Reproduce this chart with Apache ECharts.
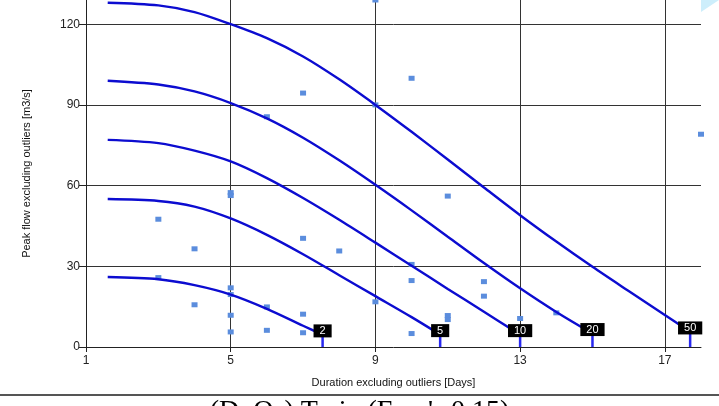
<!DOCTYPE html>
<html>
<head>
<meta charset="utf-8">
<script src="https://cdn.jsdelivr.net/npm/echarts@6/dist/echarts.min.js"></script>
<style>
  html, body { margin: 0; padding: 0; background: #fff; }
  #main { width: 719px; height: 406px; }
</style>
</head>
<body>
<div id="main"></div>
<script>
// frequency curves (return period): [duration, peak flow]
var periods = ['2', '5', '10', '20', '50'];
var curve2 = [[1.6, 26], [3, 25.2], [4, 23], [5, 19.5], [6, 14.2], [7, 7.9], [7.54, 4.5]];
var curve5 = [[1.6, 55], [3, 54.3], [4, 52.2], [5, 47.8], [6, 41.7], [7, 34.5], [8, 26.7], [9, 18.9], [10, 11.1], [10.79, 4.6]];
var curve10 = [[1.6, 77], [3, 75.8], [4, 73], [5, 69], [6, 62.8], [7, 55.4], [8, 47.3], [9, 38.8], [10, 30.2], [11, 21.6], [12, 13.1], [13, 4.6]];
var curve20 = [[1.6, 99], [3, 97.6], [4, 95], [5, 90.7], [6, 85], [7, 77.8], [8, 69.4], [9, 60.3], [10, 50.8], [11, 41], [12, 31.2], [13, 21.8], [14, 13], [15, 5]];
var curve50 = [[1.6, 128], [3, 127], [4, 124.5], [5, 120], [6, 114.8], [7, 108], [8, 99.5], [9, 90], [10, 80], [11, 69.7], [12, 59.3], [13, 49], [14, 39.2], [15, 29.8], [16, 20.8], [17, 11.9], [17.7, 5.6]];
var curves = [curve2, curve5, curve10, curve20, curve50];

// observed events
var obsDuration = [3, 3, 4, 4, 5, 5, 5, 5, 5, 5, 6, 6, 6, 7, 7, 7, 7, 8, 9, 9, 9, 10, 10, 10, 10, 11, 11, 11, 12, 12, 13, 14, 18];
var obsPeak = [47.5, 25.8, 36.5, 15.7, 57.4, 56.3, 22, 19.5, 11.8, 5.6, 85.6, 14.9, 6.2, 94.4, 40.4, 12.2, 5.3, 35.7, 129, 90, 16.8, 99.9, 30.7, 24.7, 5, 56.1, 11.7, 10.2, 24.3, 18.9, 10.6, 12.7, 79.1];

var xTicks = [1, 5, 9, 13, 17];
var yTicks = [0, 30, 60, 90, 120];

var curveColor = '#0c0cd0';
var font = 'Liberation Sans';

var series = [];

series.push({
    name: 'observed',
    type: 'scatter',
    symbol: 'rect',
    symbolSize: [6, 5],
    itemStyle: { color: '#5b8ddd', opacity: 1 },
    data: obsDuration.map(function (d, i) { return [d, obsPeak[i]]; }),
    z: 2
});

curves.forEach(function (c, i) {
    var last = c[c.length - 1];
    series.push({
        name: 'T' + periods[i],
        type: 'line',
        smooth: 0.3,
        showSymbol: false,
        lineStyle: { color: curveColor, width: 2.4 },
        data: c,
        z: 3
    });
    // drop from end of curve to the axis
    series.push({
        type: 'line',
        showSymbol: false,
        lineStyle: { color: '#2828f0', width: 2.5 },
        data: [last, [last[0], 0]],
        z: 3
    });
});

// return period tags
series.push({
    type: 'scatter',
    symbolSize: 0,
    itemStyle: { opacity: 1 },
    data: curves.map(function (c, i) {
        var last = c[c.length - 1];
        return { value: last, name: periods[i] };
    }),
    label: {
        show: true,
        position: 'inside',
        offset: [0, -4],
        formatter: '{b}',
        color: '#fff',
        opacity: 1,
        backgroundColor: '#000',
        padding: [1, 6, 0, 6],
        fontFamily: font,
        fontSize: 11,
        lineHeight: 12
    },
    z: 5
});

var chart = echarts.init(document.getElementById('main'));
chart.setOption({
    animation: false,
    backgroundColor: '#fff',
    textStyle: { fontFamily: font },
    grid: { left: 86, right: 18, top: 0, bottom: 59 },
    xAxis: {
        type: 'value',
        min: 1,
        max: 18,
        interval: 4,
        name: 'Duration excluding outliers [Days]',
        nameLocation: 'middle',
        nameGap: 30,
        nameTextStyle: { color: '#111', fontSize: 11, fontFamily: font },
        axisLine: { show: true, lineStyle: { color: '#222', width: 1 } },
        axisTick: { show: true, length: 5, lineStyle: { color: '#222' }, customValues: xTicks },
        axisLabel: { color: '#222', fontSize: 12, margin: 8, customValues: xTicks },
        splitLine: { show: true, showMinLine: false, lineStyle: { color: '#333', width: 1 } }
    },
    yAxis: {
        type: 'value',
        min: 0,
        max: 129,
        interval: 30,
        name: 'Peak flow excluding outliers [m3/s]',
        nameLocation: 'middle',
        nameGap: 54,
        nameTextStyle: { color: '#111', fontSize: 11, fontFamily: font },
        axisLine: { show: true, lineStyle: { color: '#222', width: 1 } },
        axisTick: { show: true, length: 7, lineStyle: { color: '#222' }, customValues: yTicks },
        axisLabel: { color: '#222', fontSize: 12, margin: 6, customValues: yTicks },
        splitLine: { show: true, showMinLine: false, lineStyle: { color: '#333', width: 1 } }
    },
    graphic: [
        {
            type: 'polygon',
            shape: { points: [[701, 0], [701, 12], [719, 0]] },
            style: { fill: '#cdeefb' }
        },
        {
            type: 'rect',
            shape: { x: 0, y: 394, width: 719, height: 2 },
            style: { fill: '#555' }
        },
        {
            type: 'text',
            left: 'center',
            top: 398,
            style: {
                text: '(D, Q\u209a) Train (Freq\'s 0.15)',
                font: '28px "Liberation Serif"',
                fill: '#000'
            }
        }
    ],
    series: series
});
</script>
</body>
</html>
